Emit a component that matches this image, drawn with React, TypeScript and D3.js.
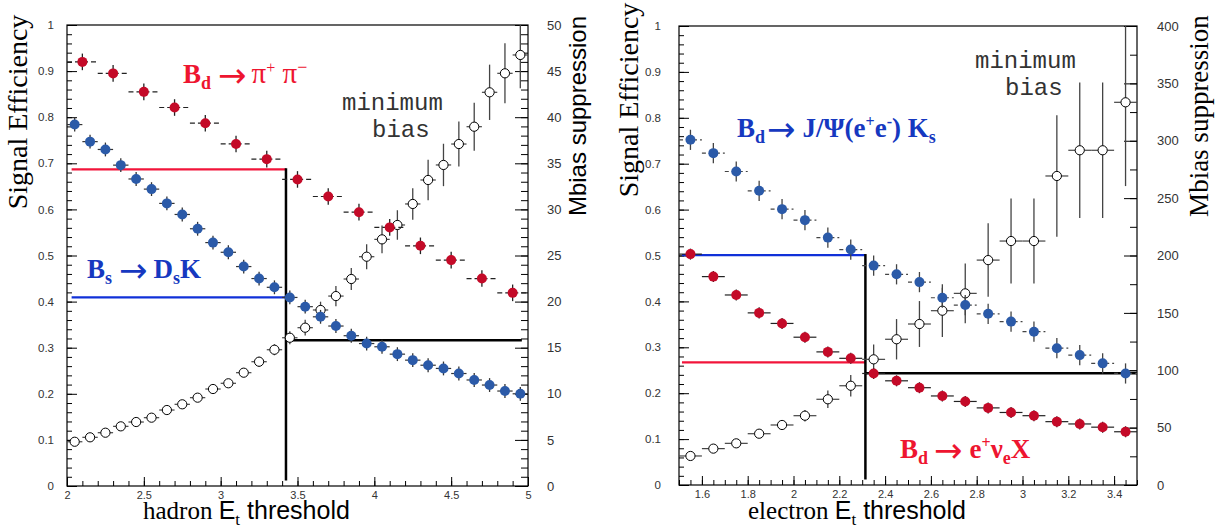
import React, { useEffect, useRef } from 'react'
import * as d3 from 'd3'

// ---- hadron trigger (left panel) ----
const hadRedX = [2.1, 2.3, 2.5, 2.7, 2.9, 3.1, 3.3, 3.5, 3.7, 3.9, 4.1, 4.3, 4.5, 4.7, 4.9]
const hadRedEff = [0.92, 0.895, 0.855, 0.821, 0.787, 0.742, 0.709, 0.665, 0.628, 0.594, 0.561, 0.521, 0.49, 0.45, 0.419]
const hadBinX = [
  2.05, 2.15, 2.25, 2.35, 2.45, 2.55, 2.65, 2.75, 2.85, 2.95, 3.05, 3.15, 3.25, 3.35, 3.45,
  3.55, 3.65, 3.75, 3.85, 3.95, 4.05, 4.15, 4.25, 4.35, 4.45, 4.55, 4.65, 4.75, 4.85, 4.95,
]
const hadBlueEff = [
  0.784, 0.747, 0.73, 0.696, 0.666, 0.644, 0.613, 0.589, 0.558, 0.528, 0.507, 0.476, 0.45, 0.431, 0.409,
  0.389, 0.367, 0.347, 0.326, 0.309, 0.302, 0.286, 0.273, 0.262, 0.255, 0.244, 0.23, 0.219, 0.206, 0.2,
]
const hadMbias = [
  4.8, 5.28, 5.78, 6.47, 6.94, 7.41, 8.24, 8.86, 9.58, 10.52, 11.14, 12.29, 13.48, 14.78, 16.08,
  17.17, 19.09, 20.6, 22.45, 24.87, 26.75, 28.31, 30.59, 33.19, 34.82, 37.09, 38.97, 42.7, 44.76, 46.75,
]
const hadMbiasErr = [
  0.3, 0.3, 0.3, 0.35, 0.35, 0.35, 0.4, 0.4, 0.4, 0.45, 0.45, 0.5, 0.55, 0.6, 0.7,
  0.85, 0.9, 1.1, 1.2, 1.35, 1.5, 1.6, 1.7, 2.2, 2.3, 2.45, 2.6, 3.0, 3.25, 3.6,
]
const hadCut = { x: 3.425, red: 0.687, blue: 0.409, mbias: 15.8, from: 2.03, to: 4.96 }

// ---- electron trigger (right panel) ----
const eleBinX = [1.55, 1.65, 1.75, 1.85, 1.95, 2.05, 2.15, 2.25, 2.35, 2.45, 2.55, 2.65, 2.75, 2.85, 2.95, 3.05, 3.15, 3.25, 3.35, 3.45]
const eleBlueEff = [0.752, 0.723, 0.683, 0.641, 0.601, 0.577, 0.539, 0.513, 0.478, 0.459, 0.442, 0.408, 0.392, 0.373, 0.356, 0.334, 0.298, 0.283, 0.265, 0.243]
const eleRedEff = [0.503, 0.454, 0.414, 0.375, 0.352, 0.322, 0.29, 0.276, 0.243, 0.227, 0.212, 0.194, 0.182, 0.168, 0.158, 0.151, 0.138, 0.133, 0.126, 0.116]
const eleMbias = [25.3, 31.7, 36.3, 44.7, 52.3, 60.4, 74.7, 86.5, 109.5, 127, 140.3, 151.9, 167, 196, 212.6, 212.6, 269.3, 291.7, 291.7, 333.5]
const eleMbiasErr = [2, 2, 2.5, 3, 3.5, 5, 7.7, 9.4, 13, 17.6, 20, 23, 26, 32, 37, 37, 53, 59, 59, 73]
const eleCut = { x: 2.314, red: 0.267, blue: 0.501, mbias: 97.3, from: 1.513, to: 3.5 }

const RED_MK = '#c40a28'
const BLUE_MK = '#2b5aa8'
const RED_TXT = '#ee1530'
const BLUE_TXT = '#1638c0'
const SERIF = 'Liberation Serif, Times New Roman, serif'
const SANS = 'Liberation Sans, Arial, sans-serif'
const MONO = 'Liberation Mono, Courier New, monospace'
const ARROW = 'DejaVu Sans, sans-serif'

const Axis = ({ axis, transform, size }) => {
  const ref = useRef(null)
  useEffect(() => {
    const g = d3.select(ref.current)
    g.call(axis)
    g.select('.domain').remove()
    g.attr('font-family', SANS).attr('font-size', size)
    g.selectAll('text').attr('fill', '#333')
    g.selectAll('line').attr('stroke', '#000')
  })
  return <g ref={ref} transform={transform} />
}

// markers with error bars
const Points = ({ xs, ys, ex, ey, sx, sy, fill, r, dash, barColor }) => (
  <g>
    {xs.map((x, i) => {
      const e = Array.isArray(ey) ? ey[i] : ey
      return (
        <g key={i}>
          <line x1={sx(x - ex)} x2={sx(x + ex)} y1={sy(ys[i])} y2={sy(ys[i])} stroke={barColor} strokeWidth={1.2} strokeDasharray={dash} />
          <line x1={sx(x)} x2={sx(x)} y1={sy(ys[i] - e)} y2={sy(Math.min(ys[i] + e, sy.domain()[1]))} stroke={barColor} strokeWidth={1.3} />
          <circle cx={sx(x)} cy={sy(ys[i])} r={r} fill={fill} stroke={fill === 'white' ? '#000' : 'none'} strokeWidth={1} />
        </g>
      )
    })}
  </g>
)

const Panel = ({ frame, xDomain, xMajor, xMinor, mbMax, mbMajor, mbMinor, labelPadL, labelPadR, children, render }) => {
  const x = d3.scaleLinear().domain(xDomain).range([frame.x0, frame.x1])
  const yL = d3.scaleLinear().domain([0, 1]).range([frame.y1, frame.y0])
  const yR = d3.scaleLinear().domain([0, mbMax]).range([frame.y1, frame.y0])
  const fmt = d3.format('~g')
  const effMajor = d3.range(0, 11).map(i => i / 10)
  const effMinor = d3.range(0, 51).map(i => i / 50)
  return (
    <g>
      <Axis axis={d3.axisBottom(x).tickValues(xMinor).tickSizeInner(-5).tickSizeOuter(0).tickFormat(() => '')} transform={`translate(0,${frame.y1})`} size={11} />
      <Axis axis={d3.axisBottom(x).tickValues(xMajor).tickSizeInner(-9).tickSizeOuter(0).tickPadding(5).tickFormat(fmt)} transform={`translate(0,${frame.y1})`} size={11} />
      <Axis axis={d3.axisLeft(yL).tickValues(effMinor).tickSizeInner(-5).tickSizeOuter(0).tickFormat(() => '')} transform={`translate(${frame.x0},0)`} size={11.5} />
      <Axis axis={d3.axisLeft(yL).tickValues(effMajor).tickSizeInner(-10).tickSizeOuter(0).tickPadding(labelPadL).tickFormat(fmt)} transform={`translate(${frame.x0},0)`} size={11.5} />
      <Axis axis={d3.axisRight(yR).tickValues(mbMinor).tickSizeInner(-7).tickSizeOuter(0).tickFormat(() => '')} transform={`translate(${frame.x1},0)`} size={13} />
      <Axis axis={d3.axisRight(yR).tickValues(mbMajor).tickSizeInner(-13).tickSizeOuter(0).tickPadding(labelPadR).tickFormat(fmt)} transform={`translate(${frame.x1},0)`} size={13} />
      <rect x={frame.x0} y={frame.y0} width={frame.x1 - frame.x0} height={frame.y1 - frame.y0} fill="none" stroke="#000" strokeWidth={1.2} />
      {render(x, yL, yR)}
      {children}
    </g>
  )
}

const CutLines = ({ cut, x, yL, yR }) => (
  <g>
    <line x1={x(cut.from)} x2={x(cut.x)} y1={yL(cut.red)} y2={yL(cut.red)} stroke="#f2143a" strokeWidth={2.2} />
    <line x1={x(cut.from)} x2={x(cut.x)} y1={yL(cut.blue)} y2={yL(cut.blue)} stroke="#1030d8" strokeWidth={2.2} />
    <line x1={x(cut.x)} x2={x(cut.x)} y1={yL(0.012)} y2={yL(Math.max(cut.red, cut.blue)) - 1} stroke="#000" strokeWidth={2.5} />
    <line x1={x(cut.x)} x2={x(cut.to)} y1={yR(cut.mbias)} y2={yR(cut.mbias)} stroke="#000" strokeWidth={2.5} />
  </g>
)

// wide arrow like the ROOT symbol font; sits 4px below the baseline so its shaft lines up with the x-height
const Arrow = ({ before }) => (
  <tspan dx={before} dy={-2} fontFamily={ARROW} fontWeight="normal" fontSize={34}>→</tspan>
)

export default function App() {
  const hadFrame = { x0: 67, x1: 528, y0: 25, y1: 486 }
  const eleFrame = { x0: 679, x1: 1137, y0: 26, y1: 485 }
  return (
    <svg width={1220} height={529} viewBox="0 0 1220 529" style={{ position: 'absolute', left: 0, top: 0, background: '#fff' }}>
      <Panel
        frame={hadFrame}
        xDomain={[2, 5]}
        xMajor={[2, 2.5, 3, 3.5, 4, 4.5, 5]}
        xMinor={d3.range(0, 31).map(i => 2 + i / 10)}
        mbMax={50}
        mbMajor={d3.range(0, 55, 5)}
        mbMinor={d3.range(0, 51)}
        labelPadL={13}
        labelPadR={19}
        render={(x, yL, yR) => (
          <g>
            <CutLines cut={hadCut} x={x} yL={yL} yR={yR} />
            <Points xs={hadBinX} ys={hadMbias} ex={0.05} ey={hadMbiasErr} sx={x} sy={yR} fill="white" r={4.6} barColor="#444" />
            <Points xs={hadBinX} ys={hadBlueEff} ex={0.05} ey={0.015} sx={x} sy={yL} fill={BLUE_MK} r={5} barColor="#333" />
            <Points xs={hadRedX} ys={hadRedEff} ex={0.1} ey={0.018} sx={x} sy={yL} fill={RED_MK} r={5} dash="5 3" barColor="#222" />
          </g>
        )}
      >
        <text x={183} y={83} fontFamily={SERIF} fontWeight="bold" fontSize={27} fill={RED_TXT}>
          B<tspan fontSize={18} dy={6}>d</tspan>
          <Arrow before={7} />
          <tspan dx={5} dy={-4} fontWeight="normal" fontSize={29}>π</tspan>
          <tspan fontSize={16} dy={-10} fontWeight="normal">+</tspan>
          <tspan dy={10} fontWeight="normal" fontSize={29}> π</tspan>
          <tspan fontSize={18} dy={-10} fontWeight="normal">−</tspan>
        </text>
        <text x={87} y={278} fontFamily={SERIF} fontWeight="bold" fontSize={27} fill={BLUE_TXT}>
          B<tspan fontSize={18} dy={6}>s</tspan>
          <Arrow before={7} />
          <tspan dx={6} dy={-4}>D</tspan>
          <tspan fontSize={18} dy={6}>s</tspan>
          <tspan dy={-6}>K</tspan>
        </text>
        <text fontFamily={MONO} fontSize={24} fill="#333">
          <tspan x={342} y={110}>minimum</tspan>
          <tspan x={372} y={137}>bias</tspan>
        </text>
        <text transform="translate(27,112) rotate(-90)" textAnchor="middle" fontFamily={SERIF} fontSize={28} fill="#000">Signal Efficiency</text>
        <text transform="translate(586,116) rotate(-90)" textAnchor="middle" fontFamily={SANS} fontSize={24} fill="#000">Mbias suppression</text>
        <text x={143} y={519} fontFamily={SERIF} fontSize={25} fill="#000">
          hadron <tspan fontFamily={SANS}>E</tspan>
          <tspan fontSize={17} dy={6}>t</tspan>
          <tspan dy={-6} fontFamily={SANS}> threshold</tspan>
        </text>
      </Panel>

      <Panel
        frame={eleFrame}
        xDomain={[1.5, 3.5]}
        xMajor={[1.6, 1.8, 2, 2.2, 2.4, 2.6, 2.8, 3, 3.2, 3.4]}
        xMinor={d3.range(0, 41).map(i => 1.5 + i / 20)}
        mbMax={400}
        mbMajor={d3.range(0, 450, 50)}
        mbMinor={d3.range(0, 425, 25)}
        labelPadL={18}
        labelPadR={20}
        render={(x, yL, yR) => (
          <g>
            <CutLines cut={eleCut} x={x} yL={yL} yR={yR} />
            <Points xs={eleBinX} ys={eleMbias} ex={0.05} ey={eleMbiasErr} sx={x} sy={yR} fill="white" r={4.6} barColor="#444" />
            <Points xs={eleBinX} ys={eleBlueEff} ex={0.05} ey={0.022} sx={x} sy={yL} fill={BLUE_MK} r={5} dash="4 3" barColor="#444" />
            <Points xs={eleBinX} ys={eleRedEff} ex={0.05} ey={0.012} sx={x} sy={yL} fill={RED_MK} r={5} barColor="#222" />
          </g>
        )}
      >
        <text x={737} y={137} fontFamily={SERIF} fontWeight="bold" fontSize={27} fill={BLUE_TXT}>
          B<tspan fontSize={18} dy={6}>d</tspan>
          <Arrow before={2} />
          <tspan dx={7} dy={-4}>J/Ψ(e</tspan>
          <tspan fontSize={16} dy={-10}>+</tspan>
          <tspan dy={10}>e</tspan>
          <tspan fontSize={16} dy={-10}>-</tspan>
          <tspan dy={10}>) K</tspan>
          <tspan fontSize={18} dy={6}>s</tspan>
        </text>
        <text x={900} y={458} fontFamily={SERIF} fontWeight="bold" fontSize={27} fill={RED_TXT}>
          B<tspan fontSize={18} dy={6}>d</tspan>
          <Arrow before={6} />
          <tspan dx={7} dy={-4}>e</tspan>
          <tspan fontSize={16} dy={-10}>+</tspan>
          <tspan dy={10}>ν</tspan>
          <tspan fontSize={18} dy={6}>e</tspan>
          <tspan dy={-6}>X</tspan>
        </text>
        <text fontFamily={MONO} fontSize={24} fill="#333">
          <tspan x={975} y={68}>minimum</tspan>
          <tspan x={1005} y={95}>bias</tspan>
        </text>
        <text transform="translate(638,100) rotate(-90)" textAnchor="middle" fontFamily={SERIF} fontSize={28} fill="#000">Signal Efficiency</text>
        <text transform="translate(1208,116) rotate(-90)" textAnchor="middle" fontFamily={SERIF} fontSize={27} fill="#000">Mbias suppression</text>
        <text x={748} y={519} fontFamily={SERIF} fontSize={25} fill="#000">
          electron <tspan fontFamily={SANS}>E</tspan>
          <tspan fontSize={17} dy={6}>t</tspan>
          <tspan dy={-6} fontFamily={SANS}> threshold</tspan>
        </text>
      </Panel>
    </svg>
  )
}
